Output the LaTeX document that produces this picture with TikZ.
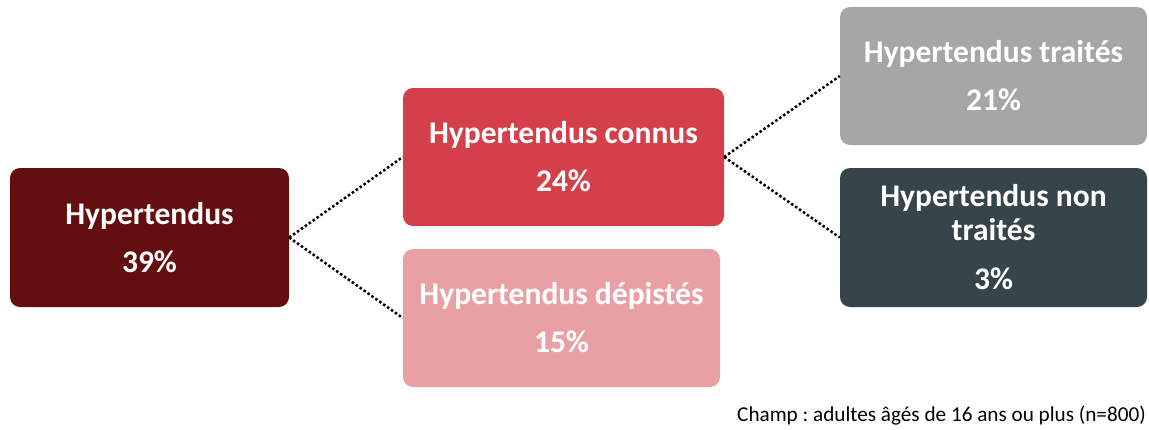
\documentclass[tikz,border=0pt]{standalone}
\usepackage{fontspec}
\setmainfont{Carlito}
\frenchspacing
\definecolor{hypdark}{HTML}{640F0F}
\definecolor{hypknown}{HTML}{D4404A}
\definecolor{hypscreen}{HTML}{E9A0A5}
\definecolor{hyptreated}{HTML}{A6A6A6}
\definecolor{hypuntreated}{HTML}{36444C}
\tikzset{
  box/.style={rounded corners=10pt, text=white, align=center, inner sep=0pt,
    font=\fontsize{31.5}{37}\selectfont\bfseries},
  link/.style={line width=2.5pt, dash pattern=on 2.5pt off 2.3pt, black}
}
\begin{document}
\begin{tikzpicture}[x=1pt, y=-1pt]
\useasboundingbox (0,0) rectangle (1149,429);
\node[box, fill=hypdark, minimum width=279pt, minimum height=139pt] (hyp) at (149.5,237.5)
  {Hypertendus\\[11pt]39\%};
\node[box, fill=hypknown, minimum width=321pt, minimum height=138pt] (known) at (563.5,157)
  {Hypertendus connus\\[11pt]24\%};
\node[box, fill=hypscreen, minimum width=317pt, minimum height=138pt] (screen) at (561.5,318)
  {Hypertendus dépistés\\[11pt]15\%};
\node[box, fill=hyptreated, minimum width=307pt, minimum height=138pt] (treated) at (993.5,76)
  {Hypertendus traités\\[11pt]21\%};
\node[box, fill=hypuntreated, minimum width=307pt, minimum height=139pt] (untreated) at (993.5,237.5)
  {Hypertendus non\\[-3pt]traités\\[12pt]3\%};
\draw[link] (hyp.east) -- (known.west);
\draw[link] (hyp.east) -- (screen.west);
\draw[link] (known.east) -- (treated.west);
\draw[link] (known.east) -- (untreated.west);
\node[anchor=base east, inner sep=0pt, font=\fontsize{21.2}{25}\selectfont] (note) at (1146,421)
  {Champ : adultes âgés de 16 ans ou plus (n=800)};
\end{tikzpicture}
\end{document}
